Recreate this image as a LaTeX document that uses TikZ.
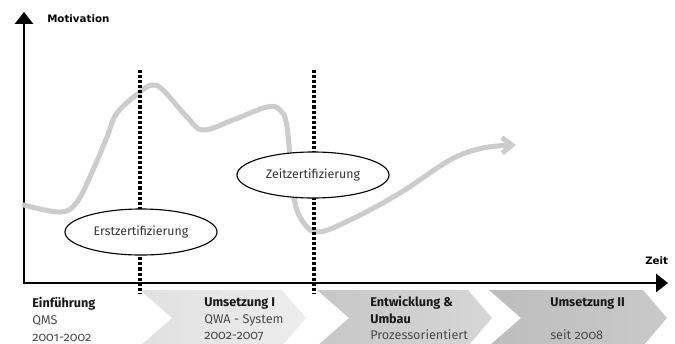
\documentclass[tikz,border=0pt]{standalone}
\usepackage{fontspec}
\setmainfont{Fira Sans}[Numbers=OldStyle]
\newfontfamily\axisfont{DejaVu Sans}
\usetikzlibrary{arrows.meta, shapes.geometric}

\begin{document}
\begin{tikzpicture}[x=0.025cm,y=-0.025cm,
  axis/.style={line width=1.4pt,{Triangle[length=8.5pt,width=13pt]}-{Triangle[length=8.5pt,width=13pt]}},
  phaseline/.style={line width=2.3pt,dash pattern=on 2.2pt off 1.4pt},
  curve/.style={line width=3.6pt,black!20,line cap=round,-{Straight Barb[length=7pt,width=11pt]}},
  cert/.style={ellipse,draw,line width=0.8pt,fill=white,minimum width=3.8cm,minimum height=1.15cm,inner sep=0pt,font=\fontsize{8.8}{10}\selectfont,text=black!80},
  title/.style={anchor=base west,inner sep=0pt,font=\fontsize{9}{10}\selectfont\bfseries,text=black!90},
  info/.style={anchor=base west,inner sep=0pt,font=\fontsize{9}{10}\selectfont,text=black!70},
  axislabel/.style={anchor=base west,inner sep=0pt,font=\axisfont\bfseries\fontsize{7.3}{9}\selectfont}]
\useasboundingbox (0,0) rectangle (675,343);

% phase bands
\foreach \l/\r/\a/\b in {140/282/black!12/black!7, 317/468/black!22/black!16, 489/643/black!26/black!21}
  \shade[left color=\a,right color=\b] (\l,290) -- (\r,290) -- (\r+24,318) -- (\r,346) -- (\l,346) -- (\l+32,318) -- cycle;

% axes
\coordinate (ytop) at (24,12);
\coordinate (origin) at (24,283);
\coordinate (xend) at (668,283);
\draw[axis] (ytop) -- (origin) -- (xend);
\node[axislabel] (motiv) at (47,22) {Motivation};
\node[axislabel] (zeitachse) at (645,264) {Zeit};

% motivation curve
\draw[curve] plot[smooth,tension=0.6] coordinates {(24,205) (60,212) (77,202) (93,170) (107,137) (117,113) (140,92) (152,85) (163,90) (187,117) (203,130) (233,120) (267,107) (280,110) (287,127) (293,190) (300,217) (317,232) (350,220) (400,193) (450,160) (483,148) (516,145)};

% phase borders
\coordinate (b1top) at (140,70);
\coordinate (b1bot) at (140,293);
\coordinate (b2top) at (314,70);
\coordinate (b2bot) at (314,293);
\draw[phaseline] (b1top) -- (b1bot);
\draw[phaseline] (b2top) -- (b2bot);

\node[cert] (erst) at (141,232) {Erstzertifizierung};
\node[cert] (zeit) at (313,175) {Zeitzertifizierung};

% phase texts
\node[title] (einf) at (32,307) {Einführung};
\node[info] (qms) at (32,324) {QMS};
\node[info] (j1) at (32,341) {2001-2002};
\node[title] (ums1) at (204,306) {Umsetzung I};
\node[info] (qwa) at (204,323) {QWA - System};
\node[info] (j2) at (204,339) {2002-2007};
\node[title] (entw) at (370,306) {Entwicklung \&};
\node[title] (umbau) at (370,323) {Umbau};
\node[info] (proz) at (370,339) {Prozessorientiert};
\node[title] (ums2) at (550,306) {Umsetzung II};
\node[info] (j4) at (550,339) {seit 2008};
\end{tikzpicture}
\end{document}
